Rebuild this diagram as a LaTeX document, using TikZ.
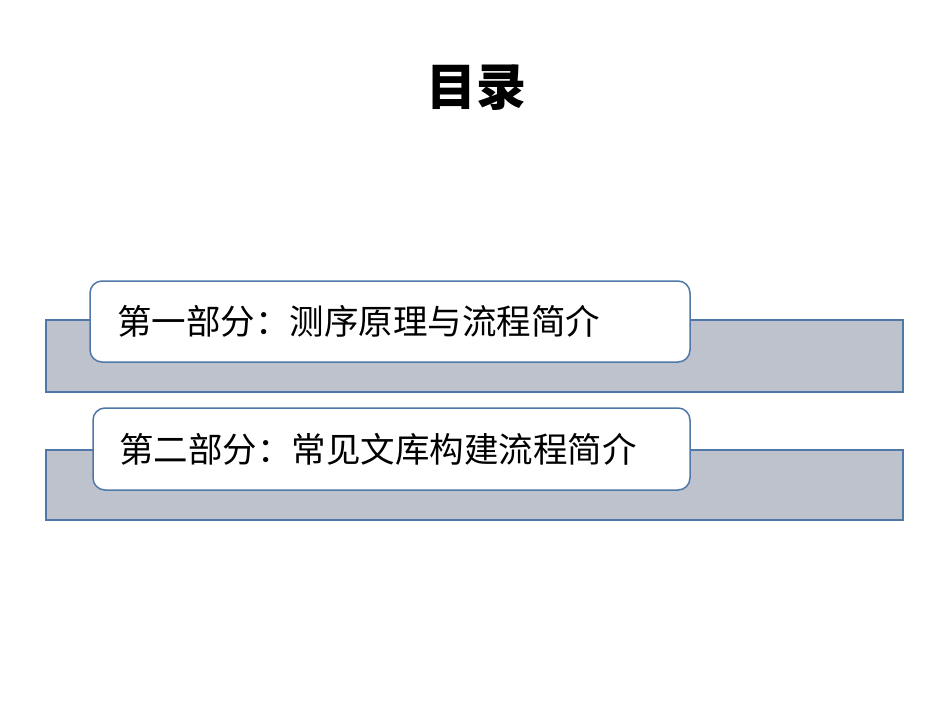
\documentclass[tikz,border=0pt]{standalone}
\usepackage{fontspec}
\newfontfamily\cjk{Noto Sans CJK SC}
\definecolor{barfill}{RGB}{190,194,204}
\definecolor{bord}{RGB}{79,119,168}
\begin{document}
\begin{tikzpicture}[x=1pt,y=-1pt,
  bar/.style={draw=bord,line width=1.5pt,fill=barfill},
  card/.style={draw=bord,line width=1.5pt,fill=white,rounded corners=12pt},
  lbl/.style={anchor=west,inner sep=0pt,font=\cjk\fontsize{34.5}{38}\selectfont,text=black}]
\useasboundingbox[fill=white] (0,0) rectangle (950,713);
\node[font=\cjk\bfseries\fontsize{50}{56}\selectfont] (title) at (476,88) {目录};
\draw[bar] (46,320) rectangle (903,392);
\draw[card] (90,281) rectangle (690,362);
\node[lbl] (t1) at (117,321) {第一部分：测序原理与流程简介};
\draw[bar] (46,450) rectangle (903,520);
\draw[card] (93,408) rectangle (690,490);
\node[lbl] (t2) at (119,449) {第二部分：常见文库构建流程简介};
\end{tikzpicture}
\end{document}
